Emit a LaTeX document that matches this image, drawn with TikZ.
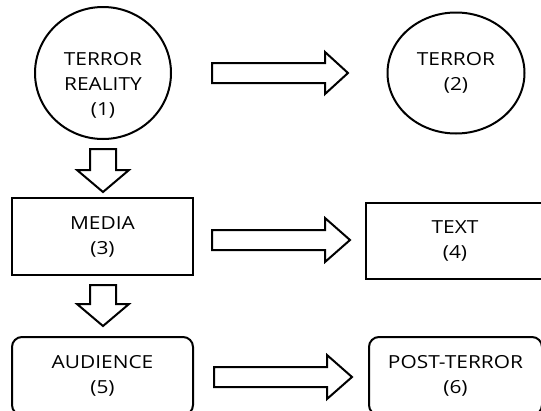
\documentclass[tikz,border=0pt]{standalone}
\usepackage{fontspec}
\setmainfont{Open Sans}[FakeStretch=1.16]
\usetikzlibrary{shapes.geometric}
\usetikzlibrary{calc}
\tikzset{>=latex}
\tikzset{
  bubble/.style = {draw, ellipse, line width = 2pt, inner sep = 0pt},
  stagebox/.style = {draw, rectangle, line width = 2pt, inner sep = 0pt},
  roundbox/.style = {stagebox, rounded corners = 10pt},
  lbl/.style = {align = center, font = \fontsize{18}{25}\selectfont},
  blockarrow/.style = {draw, line width = 2pt, line join = miter, fill = white}
}

\begin{document}
\begin{tikzpicture}[x = 1pt, y = -1pt]
\useasboundingbox (0,0) rectangle (541,410);
\clip (0,0) rectangle (541,410);

% top row
\node[bubble, minimum width = 136pt, minimum height = 132pt] (reality) at (103, 73) {};
\node[lbl] (realitytext) at (103, 85) {TERROR\\REALITY\\(1)};

\node[bubble, minimum width = 137pt, minimum height = 121pt, lbl] (terror) at (456, 73) {TERROR\\(2)};

% middle row
\node[stagebox, minimum width = 181pt, minimum height = 77pt, lbl] (media) at (102.5, 236.5) {MEDIA\\(3)};
\node[stagebox, minimum width = 178pt, minimum height = 76pt, lbl] (text) at (455, 241) {TEXT\\(4)};

% bottom row
\node[roundbox, minimum width = 181pt, minimum height = 78pt, lbl] (audience) at (102.5, 376) {AUDIENCE\\(5)};
\node[roundbox, minimum width = 173pt, minimum height = 78pt, lbl] (postterror) at (455.5, 376) {POST-TERROR\\(6)};

% right block arrows
\draw[blockarrow] (212, 63) -- (325, 63) -- (325, 52) -- (348, 73) -- (325, 94) -- (325, 83) -- (212, 83) -- cycle;
\draw[blockarrow] (212, 230) -- (325, 230) -- (325, 218) -- (350, 240) -- (325, 262) -- (325, 250) -- (212, 250) -- cycle;
\draw[blockarrow] (214, 367) -- (327, 367) -- (327, 355) -- (352, 377) -- (327, 399) -- (327, 387) -- (214, 387) -- cycle;

% down block arrows
\draw[blockarrow] (90, 149) -- (90, 170) -- (77, 170) -- (103, 192) -- (129, 170) -- (116, 170) -- (116, 149) -- cycle;
\draw[blockarrow] (90, 285) -- (90, 304) -- (77, 304) -- (103, 326) -- (129, 304) -- (116, 304) -- (116, 285) -- cycle;

\end{tikzpicture}
\end{document}
